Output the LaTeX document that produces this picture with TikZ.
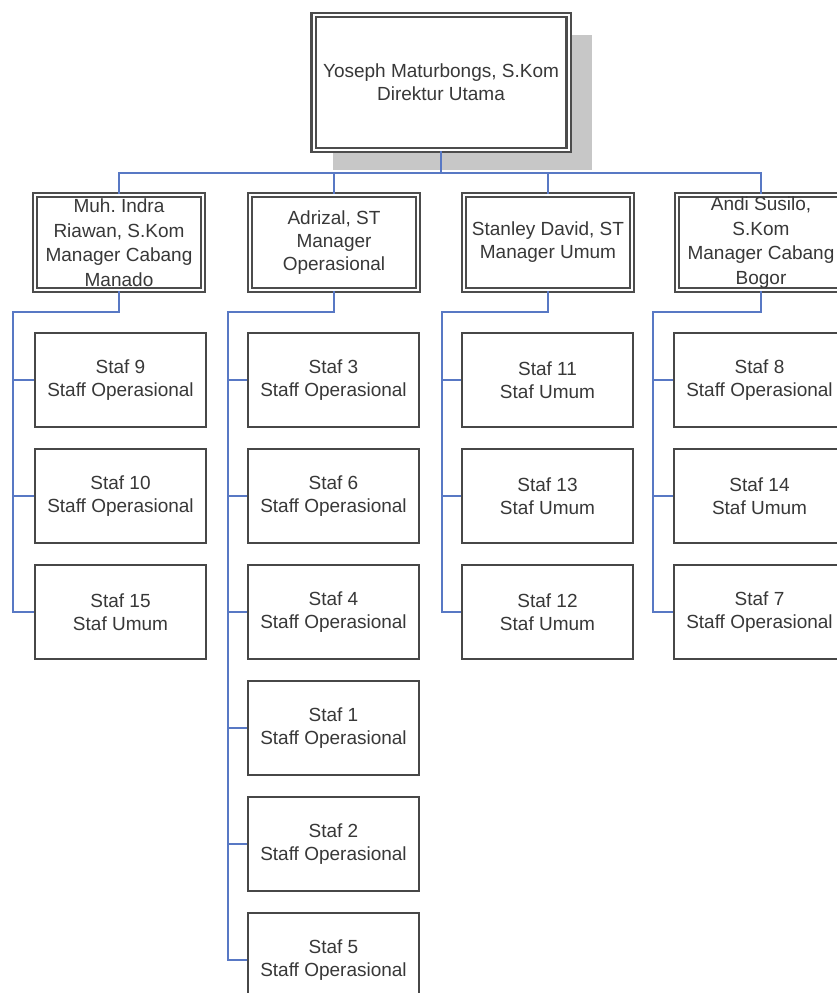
\documentclass[tikz,border=0pt]{standalone}
\usepackage{fontspec}
\setmainfont{Liberation Sans}
\definecolor{linkblue}{RGB}{88,120,196}
\begin{document}
\begin{tikzpicture}[x=1pt,y=-1pt,
  inner sep=0pt,
  txt/.style={text=black!78, font=\fontsize{19}{23}\selectfont, align=center},
  headbox/.style={txt, rectangle, fill=white, draw=black!70, line width=2.2pt, double=white, double distance=2pt, minimum height=95pt},
  tallhead/.style={headbox, font=\fontsize{19}{24.5}\selectfont},
  staffbox/.style={txt, rectangle, fill=white, draw=black!72, line width=1.7pt, minimum width=171pt, minimum height=94pt},
  conn/.style={draw=linkblue, line width=1.2pt},
]
\useasboundingbox (0,0) rectangle (837,993);
\clip (0,0) rectangle (837,993);
\fill[white] (0,0) rectangle (837,993);

% shadow behind the director's box
\fill[black!22] (333,35) rectangle (592,170);

% director
\node[headbox, minimum width=255pt, minimum height=135pt] (dir) at (441,82.5)
  {Yoseph Maturbongs, S.Kom\\Direktur Utama};

% managers
\node[tallhead, minimum width=168pt] (m1) at (119,242.5) {Muh.\ Indra\\Riawan, S.Kom\\Manager Cabang\\Manado};
\node[headbox, minimum width=168pt] (m2) at (334,242.5) {Adrizal, ST\\Manager\\Operasional};
\node[headbox, minimum width=168pt] (m3) at (548,242.5) {Stanley David, ST\\Manager Umum};
\node[tallhead, minimum width=168pt] (m4) at (761,242.5) {Andi Susilo,\\S.Kom\\Manager Cabang\\Bogor};

% staff: Manado branch
\node[staffbox] (s9)  at (120.5,380) {Staf 9\\Staff Operasional};
\node[staffbox] (s10) at (120.5,496) {Staf 10\\Staff Operasional};
\node[staffbox] (s15) at (120.5,612) {Staf 15\\Staf Umum};

% staff: operations
\node[staffbox] (s3) at (333.5,380) {Staf 3\\Staff Operasional};
\node[staffbox] (s6) at (333.5,496) {Staf 6\\Staff Operasional};
\node[staffbox] (s4) at (333.5,612) {Staf 4\\Staff Operasional};
\node[staffbox] (s1) at (333.5,728) {Staf 1\\Staff Operasional};
\node[staffbox] (s2) at (333.5,844) {Staf 2\\Staff Operasional};
\node[staffbox] (s5) at (333.5,960) {Staf 5\\Staff Operasional};

% staff: general affairs
\node[staffbox] (s11) at (547.5,380) {Staf 11\\Staf Umum};
\node[staffbox] (s13) at (547.5,496) {Staf 13\\Staf Umum};
\node[staffbox] (s12) at (547.5,612) {Staf 12\\Staf Umum};

% staff: Bogor branch
\node[staffbox] (s8)  at (759.5,380) {Staf 8\\Staff Operasional};
\node[staffbox] (s14) at (759.5,496) {Staf 14\\Staf Umum};
\node[staffbox] (s7)  at (759.5,612) {Staf 7\\Staff Operasional};

% bus under the director
\coordinate (bus) at (0,173);
\draw[conn] (dir.south) -- (dir.south |- bus);
\draw[conn] (m1.north) -- (m1.north |- bus) -- (m4.north |- bus) -- (m4.north);
\draw[conn] (m2.north) -- (m2.north |- bus);
\draw[conn] (m3.north) -- (m3.north |- bus);

% trunks down each column
\coordinate (t1) at (13,312);
\coordinate (t2) at (228,312);
\coordinate (t3) at (442,312);
\coordinate (t4) at (653,312);

\draw[conn] (m1.south) |- (t1) -- (t1 |- s15.west) -- (s15.west);
\foreach \s in {s9,s10} \draw[conn] (t1 |- \s.west) -- (\s.west);

\draw[conn] (m2.south) |- (t2) -- (t2 |- s5.west) -- (s5.west);
\foreach \s in {s3,s6,s4,s1,s2} \draw[conn] (t2 |- \s.west) -- (\s.west);

\draw[conn] (m3.south) |- (t3) -- (t3 |- s12.west) -- (s12.west);
\foreach \s in {s11,s13} \draw[conn] (t3 |- \s.west) -- (\s.west);

\draw[conn] (m4.south) |- (t4) -- (t4 |- s7.west) -- (s7.west);
\foreach \s in {s8,s14} \draw[conn] (t4 |- \s.west) -- (\s.west);
\end{tikzpicture}
\end{document}
